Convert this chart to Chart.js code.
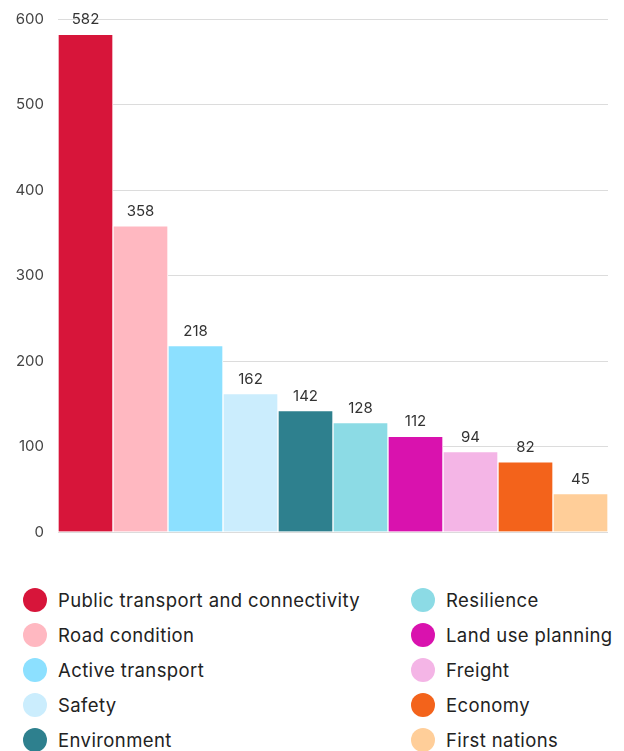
<!DOCTYPE html>
<html>
<head>
<meta charset="utf-8">
<script src="https://cdn.jsdelivr.net/npm/chart.js@4"></script>
<style>
  body { margin: 0; background: #fff; font-family: "Inter", sans-serif; }
  #wrap { position: relative; width: 624px; height: 560px; }
  #legend { position: relative; width: 624px; height: 191px; }
  .item { position: absolute; height: 24px; display: flex; align-items: center; font-size: 18.5px; letter-spacing: 0.4px; color: #222; white-space: nowrap; }
  .dot { width: 24px; height: 24px; border-radius: 50%; margin-right: 11px; flex: none; }
</style>
</head>
<body>
<div id="wrap"><canvas id="chart" width="624" height="560"></canvas></div>
<div id="legend"></div>
<script>
// --- dados ---
const categories = [
    'Public transport and connectivity', 'Road condition', 'Active transport', 'Safety', 'Environment',
    'Resilience', 'Land use planning', 'Freight', 'Economy', 'First nations'
];
const counts = [582, 358, 218, 162, 142, 128, 112, 94, 82, 45];
const colors = [
    '#D7153A', '#FFB8C1', '#8CE0FF', '#CBEDFD', '#2E808E',
    '#8CDBE5', '#D912AE', '#F4B5E6', '#F3631B', '#FFCE99'
];
const yTicks = [0, 100, 200, 300, 400, 500, 600];

// rótulos de valor acima das barras
const valueLabels = {
    id: 'valueLabels',
    afterDatasetsDraw(chart) {
        const ctx = chart.ctx;
        const meta = chart.getDatasetMeta(0);
        ctx.save();
        ctx.font = '15px Inter, sans-serif';
        ctx.fillStyle = '#333';
        ctx.textAlign = 'center';
        ctx.textBaseline = 'bottom';
        meta.data.forEach((bar, i) => {
            ctx.fillText(String(counts[i]), bar.x, bar.y - 7);
        });
        ctx.restore();
    }
};

new Chart(document.getElementById('chart'), {
    type: 'bar',
    data: {
        labels: categories,
        datasets: [{
            data: counts,
            backgroundColor: colors,
            borderColor: '#ffffff',
            borderWidth: 1,
            categoryPercentage: 1,
            barPercentage: 1
        }]
    },
    options: {
        responsive: false,
        animation: false,
        layout: { padding: { top: 19, right: 16, bottom: 28, left: 0 } },
        plugins: { legend: { display: false }, tooltip: { enabled: false } },
        scales: {
            x: { display: false },
            y: {
                min: 0,
                max: 600,
                afterBuildTicks: axis => { axis.ticks = yTicks.map(v => ({ value: v })); },
                afterFit: axis => {
                    axis.width = 58;
                    axis.paddingTop = 0;
                    axis.paddingBottom = 0;
                },
                border: { display: false },
                grid: { color: '#dcdcdc', lineWidth: 1, drawTicks: false },
                ticks: {
                    padding: 14,
                    color: '#444',
                    font: { family: 'Inter', size: 15 }
                }
            }
        }
    },
    plugins: [valueLabels]
});

// legenda em duas colunas
const legend = document.getElementById('legend');
categories.forEach((name, i) => {
    const col = i < 5 ? 0 : 1;
    const row = i % 5;
    const el = document.createElement('div');
    el.className = 'item';
    el.style.left = (col === 0 ? 23 : 411) + 'px';
    el.style.top = (28 + row * 35) + 'px';
    el.innerHTML = '<span class="dot" style="background:' + colors[i] + '"></span>' + name;
    legend.appendChild(el);
});
</script>
</body>
</html>
